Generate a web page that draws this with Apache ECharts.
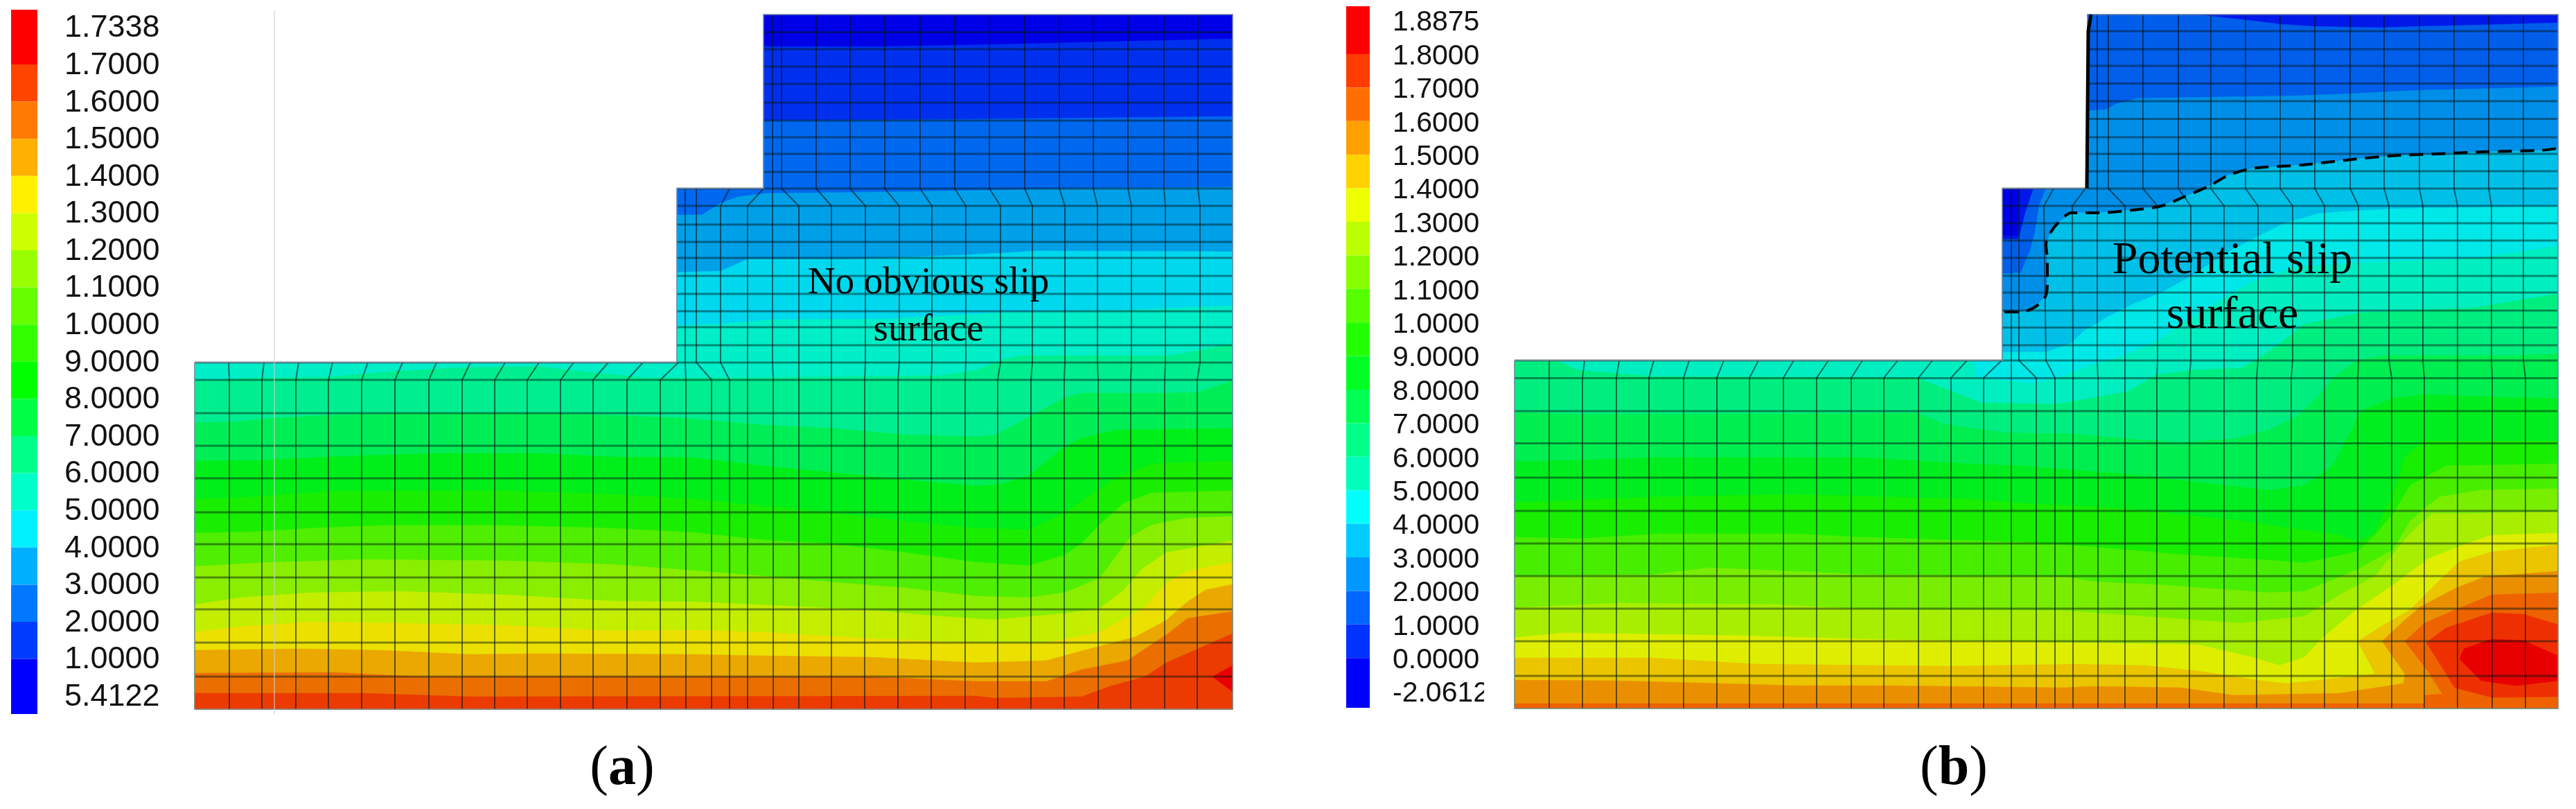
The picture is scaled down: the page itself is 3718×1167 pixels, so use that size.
<!DOCTYPE html>
<html><head><meta charset="utf-8">
<style>html,body{margin:0;padding:0;background:#fff}#c{width:3718px;height:1167px}</style>
<script src="https://cdn.jsdelivr.net/npm/echarts@6/dist/echarts.min.js"></script>
</head><body><div id="c"></div>
<script>
// ---------- legends ----------
const aLegendLabels=['1.7338','1.7000','1.6000','1.5000','1.4000','1.3000','1.2000','1.1000','1.0000','9.0000','8.0000','7.0000','6.0000','5.0000','4.0000','3.0000','2.0000','1.0000','5.4122'];
const bLegendLabels=['1.8875','1.8000','1.7000','1.6000','1.5000','1.4000','1.3000','1.2000','1.1000','1.0000','9.0000','8.0000','7.0000','6.0000','5.0000','4.0000','3.0000','2.0000','1.0000','0.0000','-2.0612'];
const aLegendEdges=[14,93,146.6,200.2,253.8,307.4,361,414.6,468.2,521.8,575.4,629,682.6,736.2,789.8,843.4,897,950.6,1030];
const bLegendEdges=[9,78,126.4,174.8,223.2,271.6,320,368.4,416.8,465.2,513.6,562,610.4,658.8,707.2,755.6,804,852.4,900.8,949.2,1021];
const aLegendColors=['#ff0000','#ff4400','#ff7a00','#ffb000','#fff000','#ccff00','#99ff00','#66ff00','#33ff00','#00ff00','#00ff44','#00ff88','#00ffc8','#00f0ff','#00b0ff','#0078ff','#003cff','#0000ff'];
const bLegendColors=['#ff0000','#ff3c00','#ff6e00','#ffa000','#ffd200','#eeff00','#bbff00','#88ff00','#55ff00','#22ff00','#00ff22','#00ff55','#00ff88','#00ffbb','#00ffff','#00ccff','#0099ff','#0066ff','#0033ff','#0000ff'];

// ---------- panel (a) contour bands, top to bottom ----------
const aBandColors=['#0000e8','#0030ee','#0068ee','#00a0e8','#00d8ee','#00eec8','#00ee90','#00ee55','#00ee1a','#1aee00','#50ee00','#8aee00','#c3ee00','#ebe000','#eaa800','#eb6f00','#eb3b00'];
const aOutline=[[281,523],[977,523],[977,272],[1102,272],[1102,21],[1779,21],[1779,1023],[281,1023]];
const aBoundaries=[
 [[1102,67],[1279,67],[1444,64],[1608,60],[1779,56]],
 [[977,272],[1102,272],[1102,174],[1389,172],[1696,169],[1779,168]],
 [[977,310],[1013,310],[1040,293],[1065,284],[1104,279],[1279,277],[1444,274],[1553,272],[1779,270]],
 [[977,393],[1040,391],[1079,374],[1224,374],[1389,368],[1498,362],[1779,363]],
 [[281,523],[977,523],[977,470],[1049,467],[1115,461],[1279,460],[1444,451],[1608,448],[1779,441]],
 [[281,549],[372,545],[474,544],[576,535],[678,530],[780,529],[831,535],[933,545],[1070,545],[1357,542],[1408,534],[1444,520],[1471,513],[1608,513],[1690,513],[1779,496]],
 [[281,610],[347,608],[397,603],[474,599],[576,596],[780,596],[882,599],[984,603],[1102,613],[1204,618],[1306,627],[1408,630],[1439,627],[1485,601],[1536,574],[1561,567],[1663,567],[1729,566],[1779,549]],
 [[281,665],[372,664],[474,659],[627,654],[780,654],[882,659],[1000,660],[1102,672],[1204,682],[1306,692],[1408,701],[1444,699],[1485,686],[1536,645],[1561,632],[1612,620],[1779,618]],
 [[281,720],[347,718],[474,709],[576,708],[729,708],[882,713],[1000,720],[1102,730],[1204,740],[1306,752],[1408,762],[1485,764],[1536,740],[1571,716],[1612,689],[1663,669],[1779,665]],
 [[281,769],[372,767],[449,762],[551,758],[729,758],[882,762],[1000,768],[1102,779],[1204,785],[1306,797],[1408,811],[1485,816],[1536,801],[1561,784],[1587,757],[1622,726],[1663,711],[1779,708]],
 [[281,817],[372,812],[525,807],[729,809],[882,814],[1000,823],[1102,831],[1204,840],[1306,848],[1408,860],[1485,862],[1536,855],[1587,834],[1612,801],[1632,774],[1663,757],[1714,747],[1779,745]],
 [[281,872],[347,862],[449,855],[576,853],[729,858],[882,867],[1000,868],[1153,875],[1255,880],[1357,889],[1433,894],[1536,885],[1587,878],[1622,851],[1648,821],[1683,797],[1779,780]],
 [[281,912],[347,904],[449,897],[576,899],[729,902],[882,910],[1000,909],[1102,912],[1255,921],[1408,927],[1510,927],[1587,912],[1612,899],[1653,875],[1683,841],[1714,824],[1779,811]],
 [[281,938],[434,936],[551,938],[678,944],[780,943],[1000,944],[1102,946],[1255,948],[1408,956],[1510,953],[1561,939],[1638,919],[1683,895],[1714,868],[1740,851],[1779,843]],
 [[281,971],[484,970],[602,976],[1255,976],[1408,983],[1510,983],[1561,966],[1627,953],[1683,916],[1714,892],[1779,882]],
 [[281,1000],[525,1000],[678,1005],[1408,1004],[1434,1007],[1561,1005],[1602,990],[1653,976],[1683,956],[1729,936],[1779,914]]
];
const aPeakColor='#e80000';
const aPeak=[[1779,960],[1750,976],[1779,998]];

// ---------- panel (a) mesh ----------
const aColumnLevels=[1023,548,523,297,272,21];
const aColumns=[
 [331,331,330],[378,378,381],[427,427,431],[474,474,480],[522,522,531],[570,570,581],[619,619,630],[667,667,679],[714,714,729],[761,761,778],[809,809,828],[856,856,878],[905,905,928],[953,953,979],
 [990,990,989,989,989],[1027,1027,1005,1005,1005],[1053,1053,1040,1040,1053],[1079,1079,1079,1079,1102],
 [1116,1116,1115,1115,1115,1115],[1153,1153,1153,1153,1128,1128],[1200,1200,1200,1200,1178,1178],[1248,1248,1249,1249,1227,1227],[1296,1296,1298,1298,1277,1277],[1344,1344,1345,1345,1328,1328],[1393,1393,1394,1394,1378,1378],[1440,1440,1444,1444,1428,1428],[1488,1488,1490,1490,1479,1479],[1536,1536,1537,1537,1529,1529],[1585,1585,1584,1584,1578,1578],[1632,1632,1633,1633,1628,1628],[1681,1681,1682,1682,1680,1680],[1728,1728,1732,1732,1729,1729]
];
const aRowsTop=[46.5,71,96,121,148,174,198,222,248];
const aRowsMid=[272,297,324,349,372,398,424,449,472,498];
const aRowsLow=[523,548,596,643,690,739,785,833,879,927,976];
const aGuide=[[396,15],[396,1030]];

// ---------- panel (b) contour bands, top to bottom ----------
const bBandColors=['#0000e8','#0018e8','#005eea','#008fe8','#00c0e8','#00e8e8','#00eec0','#00ee80','#00ee50','#00ee20','#18ee00','#48ee00','#7aee00','#a8ee00','#dfee00','#ebc500','#ea9000','#ee6200'];
const bOutline=[[2186,520],[2890,520],[2890,272],[3013,272],[3013,21],[3692,21],[3692,1022],[2186,1022]];
const bSlipLine=[[2893,450],[2917,450],[2937,443],[2952,428],[2955,408],[2955,375],[2953,352],[2960,335],[2970,322],[2990,307],[3030,307],[3087,302],[3120,297],[3150,285],[3189,268],[3216,253],[3251,243],[3323,238],[3395,230],[3449,225],[3516,222],[3584,219],[3665,217],[3692,214]];
const bBoundaries=[
 [[2890,340],[2912,340],[2915,272],[3013,272],[3013,21],[3692,21]],
 [[2890,345],[2912,345],[2915,340],[2923,308],[2935,272],[3013,272],[3013,21],[3153,21],[3189,23],[3251,30],[3292,35],[3337,38],[3435,40],[3494,38],[3584,36],[3647,34],[3692,33]],
 [[2890,395],[2917,393],[2923,378],[2930,362],[2937,335],[2943,298],[2953,272],[3013,272],[3013,160],[3040,158],[3054,150],[3085,142],[3314,138],[3395,135],[3494,130],[3584,128],[3692,125]],
 [[2890,450],[2917,450],[2937,443],[2952,428],[2955,408],[2955,375],[2953,352],[2960,335],[2970,322],[2990,307],[3030,307],[3087,302],[3120,297],[3150,285],[3189,268],[3216,253],[3251,243],[3323,238],[3395,230],[3449,225],[3516,222],[3584,219],[3665,217],[3692,214]],
 [[2848,545],[2848,520],[2890,520],[2890,508],[2953,508],[2990,495],[3007,478],[3040,458],[3080,438],[3120,422],[3163,398],[3213,365],[3257,342],[3297,322],[3347,308],[3400,304],[3462,301],[3692,297]],
 [[2186,520],[2848,520],[2853,545],[2935,553],[2969,546],[3020,526],[3060,515],[3113,492],[3163,458],[3247,408],[3313,385],[3407,379],[3571,373],[3692,355]],
 [[2186,520],[2246,520],[2277,534],[2384,543],[2767,545],[2818,565],[2859,581],[2969,583],[3020,574],[3071,565],[3112,541],[3163,534],[3234,531],[3255,520],[3285,500],[3325,468],[3407,451],[3571,444],[3692,424]],
 [[2186,595],[2282,598],[2767,596],[2807,612],[2894,624],[2998,626],[3071,633],[3147,638],[3224,633],[3275,620],[3316,600],[3352,565],[3367,545],[3402,520],[3440,513],[3625,513],[3692,510]],
 [[2186,665],[2231,665],[2384,660],[2690,660],[2843,669],[2918,672],[3071,684],[3173,696],[3275,707],[3326,700],[3367,672],[3392,624],[3408,593],[3454,574],[3504,569],[3581,572],[3692,575]],
 [[2186,725],[2384,717],[2588,713],[2843,720],[2918,726],[3071,734],[3224,750],[3377,772],[3403,782],[3428,769],[3459,700],[3470,660],[3499,636],[3692,636]],
 [[2186,775],[2282,777],[2394,770],[2588,770],[2690,775],[2918,782],[3020,789],[3148,800],[3275,808],[3326,812],[3402,796],[3428,772],[3454,741],[3479,700],[3530,672],[3692,669]],
 [[2186,831],[2384,829],[2466,819],[2588,824],[2690,829],[2980,832],[3020,839],[3122,844],[3275,855],[3326,853],[3402,822],[3454,793],[3479,751],[3520,717],[3581,707],[3692,705]],
 [[2186,877],[2333,870],[2562,872],[2690,879],[2980,881],[3020,884],[3148,893],[3234,899],[3326,889],[3377,858],[3428,831],[3479,769],[3510,741],[3555,741],[3692,738]],
 [[2186,920],[2257,913],[2512,917],[2690,922],[2980,927],[3173,930],[3250,948],[3290,960],[3326,948],[3352,920],[3402,879],[3454,844],[3505,806],[3555,786],[3596,772],[3692,769]],
 [[2186,949],[2384,949],[2537,958],[2818,961],[2995,958],[3097,960],[3173,968],[3265,982],[3301,986],[3403,975],[3428,972],[3403,925],[3433,906],[3479,879],[3520,838],[3550,810],[3596,796],[3692,786]],
 [[2186,981],[2333,982],[2486,986],[2588,989],[2716,989],[2980,992],[3020,990],[3148,992],[3224,1003],[3377,1000],[3469,986],[3471,972],[3438,925],[3469,896],[3494,875],[3545,848],[3586,832],[3692,824]],
 [[2186,1015],[3499,1015],[3499,1003],[3525,1001],[3504,968],[3471,925],[3499,899],[3545,879],[3596,858],[3692,855]]
];
const bIslandColors=['#ee3000','#e80000'];
const bIslands=[
 [[3596,1006],[3692,1005],[3692,901],[3642,886],[3596,884],[3530,906],[3502,927],[3543,992]],
 [[3550,951],[3556,936],[3596,922],[3642,924],[3692,946],[3692,982],[3632,989],[3581,982]]
];

// ---------- panel (b) mesh ----------
const bColumnLevels=[1022,545,520,297,272,21];
const bColumns=[
 [2236,2236,2236],[2284,2284,2287],[2333,2333,2337],[2380,2380,2387],[2430,2430,2438],[2478,2478,2488],[2525,2525,2538],[2574,2574,2589],[2622,2622,2639],[2672,2672,2688],[2719,2719,2739],[2769,2769,2789],[2816,2816,2839],[2863,2863,2889],
 [2903,2903,2903,2903,2903],[2939,2939,2914,2914,2914],[2966,2966,2953,2950,2964],[2992,2992,2992,2991,3010],
 [3028,3028,3027,3027,3027,3027],[3067,3067,3067,3067,3043,3043],[3113,3113,3114,3114,3093,3093],[3160,3160,3162,3162,3144,3144],[3210,3210,3210,3210,3191,3191],[3257,3257,3259,3259,3241,3241],[3307,3307,3309,3309,3291,3291],[3355,3355,3355,3355,3341,3341],[3403,3403,3404,3404,3392,3392],[3452,3452,3448,3448,3441,3441],[3499,3499,3497,3497,3492,3492],[3547,3547,3547,3547,3542,3542],[3597,3597,3596,3596,3592,3592],[3645,3645,3642,3642,3642,3642]
];
const bRowsTop=[45,71,95,120.5,146,171.5,198,222,247];
const bRowsMid=[272,297,322,347,372,398,422,448,472.5,498];
const bRowsLow=[520,545.5,593,639.5,689,737,784,831,878,925,975];
const bEdgeLine=[[3018,21],[3014,45],[3012,272]];

// ---------- annotations ----------
const aNote=[['No obvious slip',1340,409],['surface',1340,477]];
const bNote=[['Potential slip',3222,377],['surface',3222,456]];
const captions=[['a',898],['b',2820]];

// ---------- helpers ----------
function closeToBottom(b,bottom){const f=b[0],l=b[b.length-1];return b.concat([[l[0],bottom],[f[0],bottom]]);}
function buildBands(outline,boundaries,colors,bottom){
  const out=[{pts:outline,color:colors[0]}];
  boundaries.forEach((b,i)=>out.push({pts:closeToBottom(b,bottom),color:colors[i+1]}));
  return out;
}
function buildMesh(cols,levels,top,mid,low,xs){
  const lines=[];
  cols.forEach(c=>lines.push({pts:c.map((x,i)=>[x,levels[i]]),w:2,c:'rgba(0,20,20,0.58)'}));
  const H=(ys,x0)=>ys.forEach(y=>lines.push({pts:[[x0,y],[xs.r,y]],w:3,c:'rgba(0,20,20,0.46)'}));
  H(top,xs.t);H(mid,xs.m);H(low,xs.l);
  return lines;
}
function customPolys(items,xi,yi,kind,z){
  return {type:'custom',xAxisIndex:xi,yAxisIndex:yi,coordinateSystem:'cartesian2d',silent:true,clip:false,z:z,animation:false,
    data:items.map((_,i)=>[i]),
    renderItem:function(p,api){
      const it=items[p.dataIndex],pts=it.pts.map(q=>api.coord(q));
      if(kind==='fill')return{type:'polygon',shape:{points:pts},style:{fill:it.color,stroke:it.color,lineWidth:0.5}};
      return{type:'polyline',shape:{points:pts},style:{fill:null,stroke:it.c,lineWidth:it.w}};
    }};
}
function noteSeries(note,size,xi,yi){
  return {type:'custom',xAxisIndex:xi,yAxisIndex:yi,coordinateSystem:'cartesian2d',silent:true,clip:false,z:8,animation:false,
    data:note.map((_,i)=>[i]),
    renderItem:function(p,api){
      const n=note[p.dataIndex],c=api.coord([n[1],n[2]]);
      return{type:'text',x:c[0],y:c[1],style:{text:n[0],fill:'#000',font:size+'px "Liberation Serif"',align:'center',verticalAlign:'middle'}};
    }};
}
function legendSeries(edges,colors,xi,yi){
  return {type:'custom',xAxisIndex:xi,yAxisIndex:yi,coordinateSystem:'cartesian2d',silent:true,clip:false,animation:false,
    data:colors.map((_,i)=>[i]),
    renderItem:function(p,api){
      const i=p.dataIndex,a=api.coord([0,edges[i]]),b=api.coord([1,edges[i+1]]);
      return{type:'rect',shape:{x:a[0],y:a[1],width:b[0]-a[0],height:b[1]-a[1]},style:{fill:colors[i]}};
    }};
}
const hiddenX=(gi,min,max)=>({type:'value',gridIndex:gi,min,max,show:false});
const hiddenY=(gi,min,max)=>({type:'value',gridIndex:gi,min,max,inverse:true,show:false});
const catY=(gi,data,size,margin)=>({type:'category',gridIndex:gi,data,inverse:true,position:'right',
  axisLine:{show:false},axisTick:{show:false},splitLine:{show:false},
  axisLabel:{show:true,interval:0,margin,align:'left',color:'#111',fontSize:size,fontFamily:'"Liberation Sans"'}});

const aBands=buildBands(aOutline,aBoundaries,aBandColors,1023).concat([{pts:aPeak,color:aPeakColor}]);
const bBands=buildBands(bOutline,bBoundaries,bBandColors,1022).concat(bIslands.map((p,i)=>({pts:p,color:bIslandColors[i]})));
const aMesh=buildMesh(aColumns,aColumnLevels,aRowsTop,aRowsMid,aRowsLow,{r:1779,t:1102,m:977,l:281});
const bMesh=buildMesh(bColumns,bColumnLevels,bRowsTop,bRowsMid,bRowsLow,{r:3692,t:3013,m:2890,l:2186});
const edge=(o)=>[{pts:o.concat([o[0]]),w:2,c:'rgba(120,140,160,0.7)'}];

const chart=echarts.init(document.getElementById('c'));
chart.setOption({
  animation:false,backgroundColor:'#fff',
  grid:[
    {left:281,top:21,width:1498,height:1002},
    {left:2186,top:21,width:1506,height:1001},
    {left:16,top:14.2,width:38,height:1018},
    {left:1943,top:8.8,width:34,height:1016.4}
  ],
  xAxis:[hiddenX(0,281,1779),hiddenX(1,2186,3692),hiddenX(2,0,1),hiddenX(3,0,1)],
  yAxis:[hiddenY(0,21,1023),hiddenY(1,21,1022),
    hiddenY(2,14.2,1032.2),hiddenY(3,8.8,1025.2),
    catY(2,aLegendLabels,45,39),catY(3,bLegendLabels,41,33)],
  series:[
    customPolys(aBands,0,0,'fill',1),
    customPolys(aMesh,0,0,'line',3),
    customPolys(edge(aOutline),0,0,'line',4),
    {type:'line',xAxisIndex:0,yAxisIndex:0,data:aGuide,showSymbol:false,silent:true,clip:false,z:5,animation:false,lineStyle:{color:'rgba(205,205,205,0.55)',width:2}},
    noteSeries(aNote,55,0,0),
    customPolys(bBands,1,1,'fill',1),
    customPolys(bMesh,1,1,'line',3),
    customPolys(edge(bOutline),1,1,'line',4),
    {type:'line',xAxisIndex:1,yAxisIndex:1,data:bEdgeLine,showSymbol:false,silent:true,clip:false,z:5,animation:false,lineStyle:{color:'#000',width:5}},
    {type:'line',xAxisIndex:1,yAxisIndex:1,data:bSlipLine,showSymbol:false,silent:true,clip:false,z:6,smooth:0.3,animation:false,lineStyle:{color:'#000',width:4,type:[20,12]}},
    noteSeries(bNote,66,1,1),
    legendSeries(aLegendEdges,aLegendColors,2,2),
    legendSeries(bLegendEdges,bLegendColors,3,3),
    // the category axes need a series bound to them to lay out
    {type:'line',xAxisIndex:2,yAxisIndex:4,data:[],silent:true},
    {type:'line',xAxisIndex:3,yAxisIndex:5,data:[],silent:true}
  ],
  graphic:[
    {type:'rect',z:50,shape:{x:2142,y:975,width:36,height:50},style:{fill:'#fff'}}
  ].concat(captions.map(c=>({type:'text',z:50,x:c[1],y:1110,style:{
      text:'{p|(}{q|'+c[0]+'}{p|)}',align:'center',verticalAlign:'middle',
      rich:{p:{fontFamily:'Liberation Serif',fontSize:80,fontWeight:'normal',fill:'#000'},q:{fontFamily:'Liberation Serif',fontSize:80,fontWeight:'bold',fill:'#000'}}}})))
});
</script></body></html>
